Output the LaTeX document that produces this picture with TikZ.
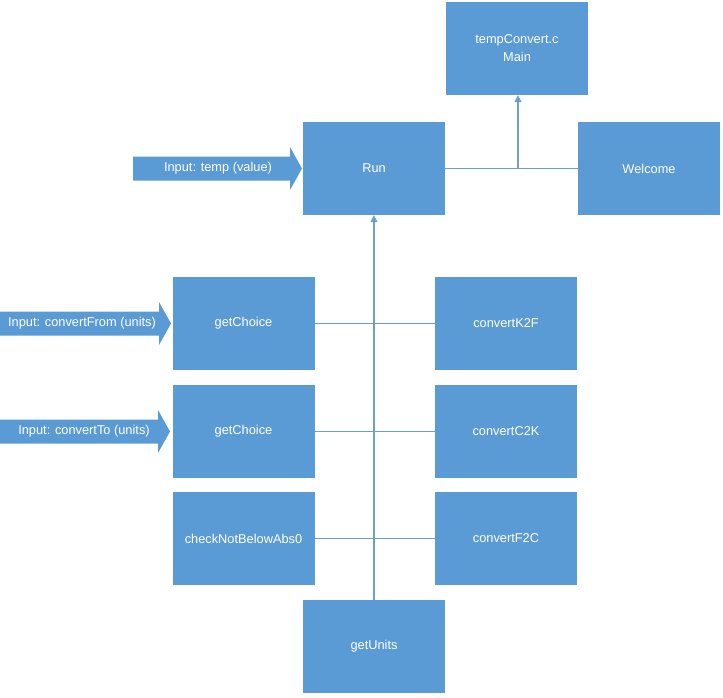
\documentclass[tikz,border=0pt]{standalone}
\usepackage{fontspec}
\setmainfont{Liberation Sans}
\usetikzlibrary{arrows.meta}
\definecolor{boxblue}{HTML}{5B9BD5}
\definecolor{linkblue}{HTML}{6A9FD3}
\begin{document}
\begin{tikzpicture}[x=1pt,y=-1pt,
  block/.style={fill=boxblue, draw=none, minimum width=142, minimum height=93,
    inner sep=0, text=white, font=\fontsize{12.8}{18}\selectfont, align=center},
  lbl/.style={text=white, font=\fontsize{12.8}{15}\selectfont, inner sep=0},
  inshape/.style={fill=boxblue, draw=none},
  link/.style={draw=linkblue, line width=1pt},
  uplink/.style={link, line width=1.4pt, -{Triangle[length=7pt,width=7pt]}}]
  \useasboundingbox (0,0) rectangle (723,697);

  % program blocks
  \node[block] (main) at (517,48.5) {tempConvert.c\\Main};
  \node[block] (run) at (374,168.5) {Run};
  \node[block] (welcome) at (649,168.5) {Welcome};
  \node[block] (choicefrom) at (243.5,323.5) {getChoice};
  \node[block] (k2f) at (506,323.5) {convertK2F};
  \node[block] (choiceto) at (243.5,431.5) {getChoice};
  \node[block] (c2k) at (506,431.5) {convertC2K};
  \node[block] (abs0) at (243.5,538.5) {checkNotBelowAbs0};
  \node[block] (f2c) at (506,538.5) {convertF2C};
  \node[block] (units) at (374,646.5) {getUnits};

  % input arrows
  \fill[inshape] (133,156.5) -- (290,156.5) -- (290,147) -- (302,168.5)
    -- (290,190) -- (290,180.5) -- (133,180.5) -- cycle;
  \node[lbl] (intemp) at (218,168.5) {Input: temp (value)};
  \fill[inshape] (0,311.5) -- (159,311.5) -- (159,302) -- (171,323.5)
    -- (159,345) -- (159,335.5) -- (0,335.5) -- cycle;
  \node[lbl] (infrom) at (82,323.5) {Input: convertFrom (units)};
  \fill[inshape] (0,419.5) -- (158,419.5) -- (158,410) -- (170,431.5)
    -- (158,453) -- (158,443.5) -- (0,443.5) -- cycle;
  \node[lbl] (into) at (84,431.5) {Input: convertTo (units)};

  % connectors
  \coordinate (tee) at (518,168.5);
  \draw[link] (run.east) -- (welcome.west);
  \draw[uplink] (tee) -- (tee |- main.south);
  \draw[uplink] (units.north) -- (run.south);
  \draw[link] (choicefrom.east) -- (k2f.west);
  \draw[link] (choiceto.east) -- (c2k.west);
  \draw[link] (abs0.east) -- (f2c.west);
\end{tikzpicture}
\end{document}
